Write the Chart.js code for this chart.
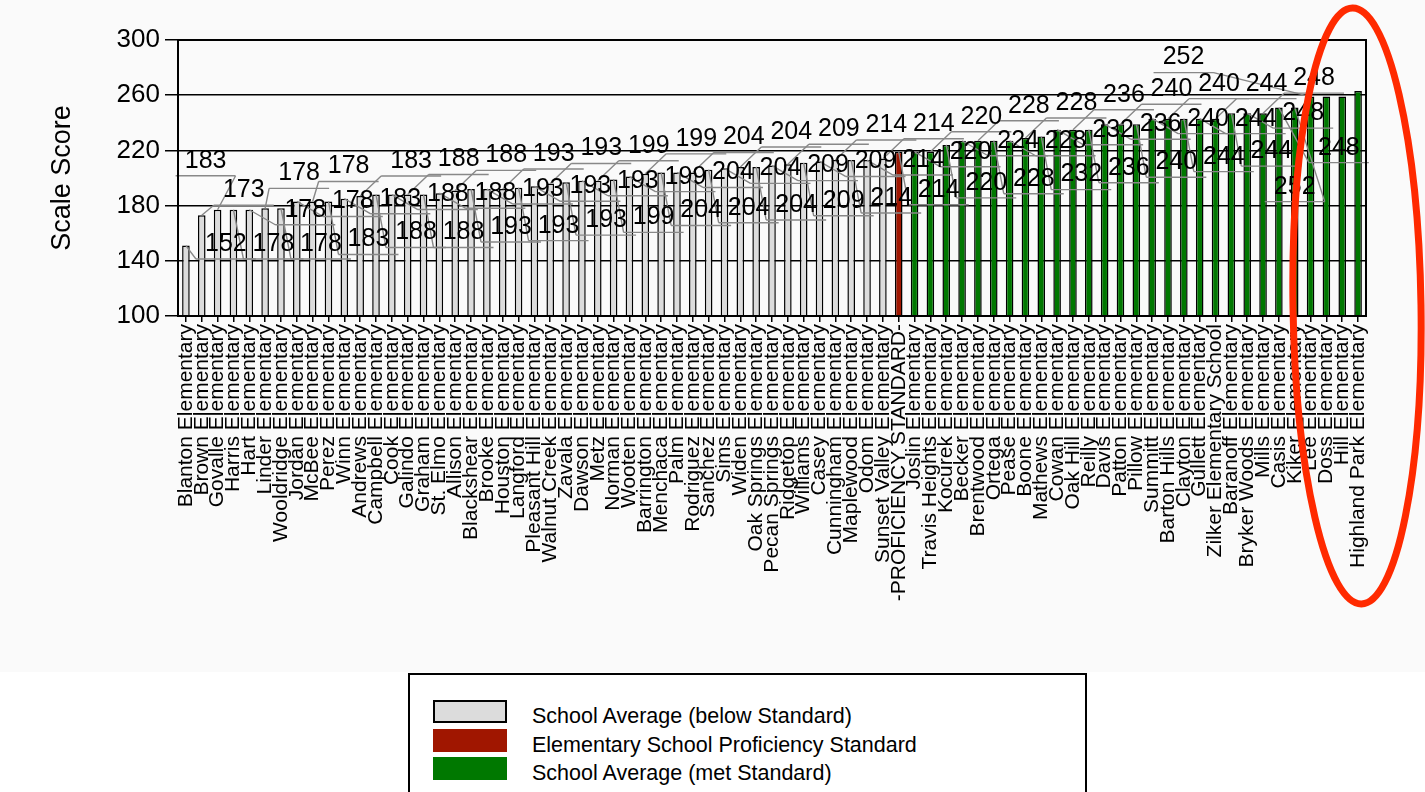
<!DOCTYPE html>
<html>
<head>
<meta charset="utf-8">
<script src="https://cdn.jsdelivr.net/npm/chart.js@4.4.1/dist/chart.umd.min.js"></script>
<style>
    body { margin: 0; background: #fff; width: 1425px; height: 792px; overflow: hidden;
           font-family: "Liberation Sans", Arial, sans-serif; }
    #wrap { position: absolute; left: 0; top: 0; width: 1425px; height: 672px; background: #fafafa; }
    #legend { position: absolute; left: 408px; top: 673px; width: 675px; height: 140px;
              border: 2px solid #000; background: #fff; }
    .sw { position: absolute; left: 23px; width: 74px; height: 23px; box-sizing: border-box; }
    .tx { position: absolute; left: 122px; font-size: 21.5px; line-height: 23px; white-space: nowrap; color: #000; }
</style>
</head>
<body>
<div id="wrap"><canvas id="grafico" width="1425" height="672"></canvas></div>
<div id="legend"></div>
<script>
// escuelas, en el orden de la grafica
var schools = ['Blanton Elementary', 'Brown Elementary', 'Govalle Elementary', 'Harris Elementary', 'Hart Elementary',
    'Linder Elementary', 'Wooldridge Elementary', 'Jordan Elementary', 'McBee Elementary', 'Perez Elementary',
    'Winn Elementary', 'Andrews Elementary', 'Campbell Elementary', 'Cook Elementary', 'Galindo Elementary',
    'Graham Elementary', 'St. Elmo Elementary', 'Allison Elementary', 'Blackshear Elementary', 'Brooke Elementary',
    'Houston Elementary', 'Langford Elementary', 'Pleasant Hill Elementary', 'Walnut Creek Elementary', 'Zavala Elementary',
    'Dawson Elementary', 'Metz Elementary', 'Norman Elementary', 'Wooten Elementary', 'Barrington Elementary',
    'Menchaca Elementary', 'Palm Elementary', 'Rodriguez Elementary', 'Sanchez Elementary', 'Sims Elementary',
    'Widen Elementary', 'Oak Springs Elementary', 'Pecan Springs Elementary', 'Ridgetop Elementary', 'Williams Elementary',
    'Casey Elementary', 'Cunningham Elementary', 'Maplewood Elementary', 'Odom Elementary', 'Sunset Valley Elementary',
    '-PROFICIENCY STANDARD-', 'Joslin Elementary', 'Travis Heights Elementary', 'Kocurek Elementary', 'Becker Elementary',
    'Brentwood Elementary', 'Ortega Elementary', 'Pease Elementary', 'Boone Elementary', 'Mathews Elementary',
    'Cowan Elementary', 'Oak Hill Elementary', 'Reilly Elementary', 'Davis Elementary', 'Patton Elementary',
    'Pillow Elementary', 'Summitt Elementary', 'Barton Hills Elementary', 'Clayton Elementary', 'Gullett Elementary',
    'Zilker Elementary School', 'Baranoff Elementary', 'Bryker Woods Elementary', 'Mills Elementary', 'Casis Elementary',
    'Kiker Elementary', 'Lee Elementary', 'Doss Elementary', 'Hill Elementary', 'Highland Park Elementary'];

// altura de cada barra
var scores = [151, 173, 177, 177, 177, 178, 178, 183, 183, 183,
    185, 187, 188, 188, 188, 188, 189, 191, 192, 192,
    192, 193, 194, 196, 197, 198, 198, 199, 201, 203,
    204, 204, 204, 206, 207, 208, 208, 209, 210, 211,
    212, 213, 213, 213, 214, 219, 219, 219, 224, 227,
    227, 227, 227, 229, 230, 235, 235, 235, 239, 239,
    239, 243, 243, 243, 243, 243, 247, 247, 247, 251,
    251, 259, 259, 259, 263];

// textos de las etiquetas de datos (null = tapada en el original)
var scoreLabels = [152, 173, 183, 178, 178, 178, 178, 178, 178, 183,
    183, 183, 188, 188, 188, 188, 188, 188, 193, 193,
    193, 193, 193, 193, 193, 193, 199, 199, 199, 199,
    204, 204, 204, 204, 204, 204, 204, 209, 209, 209,
    209, 214, 214, 214, 214, 214, 220, 220, 220, 224,
    228, 228, 228, 228, 232, 232, 236, 236, 236, 240,
    240, 240, 240, 244, 244, 244, 244, 248, 248, 248,
    252, 252, null, null, null];

var standardName = '-PROFICIENCY STANDARD-';
var seriesNames = ['School Average (below Standard)', 'Elementary School Proficiency Standard', 'School Average (met Standard)'];
var seriesColors = ['#dcdcdc', '#a01600', '#007800'];
var yTicks = [100, 140, 180, 220, 260, 300];

var FUENTE = '"Liberation Sans", Arial, sans-serif';

var stdIndex = schools.indexOf(standardName);
var stdValue = scores[stdIndex];
var below = scores.map(function (v, i) { return i !== stdIndex && v < stdValue ? v : null; });
var standard = scores.map(function (v, i) { return i === stdIndex ? v : null; });
var met = scores.map(function (v, i) { return i !== stdIndex && v >= stdValue ? v : null; });

// etiquetas escalonadas en tres filas con lineas guia
var etiquetas = {
    id: 'etiquetas',
    afterDatasetsDraw: function (chart) {
        var ctx = chart.ctx;
        var sx = chart.scales.x, sy = chart.scales.y;
        var filas = [{dx: 40, dy: 38}, {dx: 56, dy: 0}, {dx: 51, dy: -35}];
        // etiquetas que el original desplazo aparte
        var aparte = {1: {dx: 42, dy: -25}, 2: {dx: -12, dy: -49}, 5: {dx: 34, dy: -35}, 8: {dx: 36, dy: -35},
                      69: {dx: 60, dy: 40}, 70: {dx: 0, dy: 79}, 71: {dx: -127, dy: -39}};
        ctx.save();
        ctx.font = '25px ' + FUENTE;
        ctx.textAlign = 'center';
        ctx.textBaseline = 'middle';
        var puestos = [];
        scores.forEach(function (v, i) {
            if (scoreLabels[i] === null) return;
            var bx = sx.getPixelForValue(i);
            var by = sy.getPixelForValue(v);
            var f = aparte[i] || filas[i % 3];
            var lx = bx + f.dx;
            var ly = by + f.dy;
            if (!aparte[i] && i % 3 === 0 && ly > 244) ly = 244;
            puestos.push({bx: bx, by: by, lx: lx, ly: ly, t: String(scoreLabels[i])});
        });
        ctx.strokeStyle = '#888';
        ctx.lineWidth = 1.4;
        puestos.forEach(function (p) {
            var uy = p.ly + 15;
            var x0 = p.lx - 30, x1 = p.lx + 30;
            var ex = Math.abs(p.bx - x0) < Math.abs(p.bx - x1) ? x0 : x1;
            ctx.beginPath();
            ctx.moveTo(x0, uy);
            ctx.lineTo(x1, uy);
            ctx.moveTo(ex, uy);
            ctx.lineTo(p.bx, p.by);
            ctx.stroke();
        });
        ctx.fillStyle = '#000';
        puestos.forEach(function (p) {
            ctx.fillText(p.t, p.lx, p.ly);
        });
        ctx.restore();
    },
    afterDraw: function (chart) {
        var ctx = chart.ctx;
        var a = chart.chartArea;
        ctx.save();
        ctx.strokeStyle = '#000';
        ctx.lineWidth = 2;
        ctx.strokeRect(a.left, a.top, a.right - a.left, a.bottom - a.top);
        // marca roja dibujada a mano
        ctx.strokeStyle = '#ff2a00';
        ctx.lineWidth = 7;
        ctx.beginPath();
        ctx.ellipse(1357, 306, 64, 298, -0.015, 0, Math.PI * 2);
        ctx.stroke();
        ctx.restore();
    }
};

var ctx = document.getElementById('grafico');
var grafico = new Chart(ctx, {
    type: 'bar',
    data: {
        labels: schools,
        datasets: [
            {label: seriesNames[0], data: below, backgroundColor: seriesColors[0], borderColor: '#000', borderWidth: 1.5},
            {label: seriesNames[1], data: standard, backgroundColor: seriesColors[1], borderColor: '#000', borderWidth: 1.5},
            {label: seriesNames[2], data: met, backgroundColor: seriesColors[2], borderColor: '#000', borderWidth: 1.5}
        ]
    },
    options: {
        responsive: false,
        animation: false,
        datasets: {bar: {barPercentage: 0.48, categoryPercentage: 1}},
        layout: {padding: {left: 42, top: 40, right: 59, bottom: 0}},
        plugins: {legend: {display: false}, tooltip: {enabled: false}},
        scales: {
            x: {
                stacked: true,
                offset: true,
                grid: {display: true, drawOnChartArea: false, drawTicks: true, tickLength: 6, offset: false, color: '#000', lineWidth: 1.5},
                border: {display: true, color: '#000', width: 2},
                ticks: {autoSkip: false, minRotation: 90, maxRotation: 90, padding: 2, color: '#000',
                        font: {family: FUENTE, size: 21}},
                afterFit: function (scale) { scale.height = 356; }
            },
            y: {
                stacked: true,
                min: 100,
                max: 300,
                afterBuildTicks: function (scale) {
                    scale.ticks = yTicks.map(function (v) { return {value: v}; });
                },
                grid: {color: '#000', lineWidth: 1.5, tickLength: 13},
                border: {display: true, color: '#000', width: 2},
                ticks: {color: '#000', padding: 5, font: {family: FUENTE, size: 26}},
                title: {display: true, text: 'Scale Score', color: '#000', font: {family: FUENTE, size: 27}},
                afterFit: function (scale) { scale.width = 178 - 42; }
            }
        }
    },
    plugins: [etiquetas]
});

// leyenda propia
var leyenda = document.getElementById('legend');
seriesNames.forEach(function (nombre, i) {
    var sw = document.createElement('div');
    sw.className = 'sw';
    sw.style.top = [25, 54, 82][i] + 'px';
    sw.style.background = seriesColors[i];
    if (i === 0) sw.style.border = '2px solid #000';
    var tx = document.createElement('div');
    tx.className = 'tx';
    tx.style.top = [30, 59, 87][i] + 'px';
    tx.textContent = nombre;
    leyenda.appendChild(sw);
    leyenda.appendChild(tx);
});
</script>
</body>
</html>
